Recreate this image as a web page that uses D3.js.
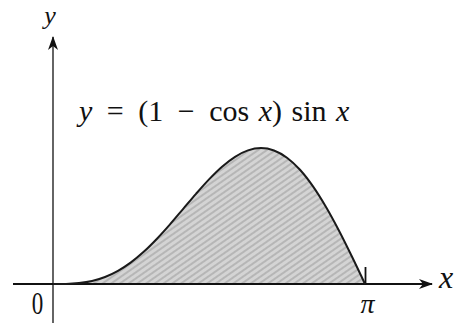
<!DOCTYPE html>
<html><head><meta charset="utf-8">
<script src="https://cdn.jsdelivr.net/npm/d3@7"></script>
<style>html,body{margin:0;padding:0;background:#fff;overflow:hidden}svg{display:block}
.serif{font-family:"Liberation Serif","Times New Roman","DejaVu Serif",serif}</style>
</head><body>
<svg id="chart" width="457" height="323"></svg>
<script>
// data: samples of y = (1 - cos x) sin x, 0..π
const xValues = [0, 0.131, 0.262, 0.393, 0.524, 0.654, 0.785, 0.916, 1.047, 1.178, 1.309, 1.440, 1.571,
                 1.702, 1.833, 1.963, 2.094, 2.225, 2.356, 2.487, 2.618, 2.749, 2.880, 3.011, 3.1416];
const yValues = [0, 0.001, 0.009, 0.029, 0.067, 0.126, 0.207, 0.310, 0.433, 0.570, 0.716, 0.862, 1.000,
                 1.121, 1.216, 1.277, 1.299, 1.276, 1.207, 1.092, 0.933, 0.736, 0.509, 0.260, 0];
const xTickValues = [0, 3.1416];
const xTickLabels = ["0", "π"];
const formulaParts = ["y", " = (1 − ", "cos ", "x", ") ", "sin ", "x"];
const formulaItalic = [true, false, false, true, false, false, true];
const formulaSpacing = [0, 7, 2, 0, 2, 2, 0];

const svg = d3.select("#chart");

const x = d3.scaleLinear().domain([0, 3.1416]).range([53, 365]);
const y = d3.scaleLinear().domain([0, 1.3]).range([284, 148]);
const pts = xValues.map((v, i) => [v, yValues[i]]);

const defs = svg.append("defs");
const pat = defs.append("pattern").attr("id", "hatch").attr("patternUnits", "userSpaceOnUse")
  .attr("width", 5).attr("height", 5).attr("patternTransform", "rotate(-35)");
pat.append("rect").attr("width", 5).attr("height", 5).attr("fill", "#d4d4d4");
pat.append("line").attr("x1", 0).attr("y1", 1).attr("x2", 5).attr("y2", 1)
  .attr("stroke", "#aaaaaa").attr("stroke-width", 1.4);

defs.append("marker").attr("id", "arrow").attr("viewBox", "0 0 14 10")
  .attr("refX", 13).attr("refY", 5).attr("markerWidth", 14).attr("markerHeight", 10)
  .attr("markerUnits", "userSpaceOnUse").attr("orient", "auto")
  .append("path").attr("d", "M0,0 L14,5 L0,10 L4,5 Z").attr("fill", "#111");

// shaded area
const area = d3.area().x(d => x(d[0])).y0(y(0)).y1(d => y(d[1])).curve(d3.curveMonotoneX);
svg.append("path").datum(pts).attr("d", area).attr("fill", "url(#hatch)");

// x axis: π tick and labels
const xAxis = d3.axisBottom(x).tickValues(xTickValues)
  .tickFormat((d, i) => xTickLabels[i]).tickSize(-17).tickSizeOuter(0).tickPadding(9);
const gx = svg.append("g").attr("transform", `translate(0,${y(0)})`).call(xAxis)
  .attr("font-family", null).attr("font-size", null);
gx.select(".domain").remove();
gx.selectAll(".tick line").attr("stroke", "#111").attr("stroke-width", 1.8)
  .filter(d => d === 0).remove();
gx.selectAll(".tick text").attr("class", "serif").attr("fill", "#111");
gx.selectAll(".tick text").filter(d => d === 0)
  .attr("font-size", 32).attr("transform", "translate(-16,0) scale(0.72,1)").attr("y", 7);
gx.selectAll(".tick text").filter(d => d !== 0)
  .attr("font-size", 28).attr("font-style", "italic").attr("dx", 2).attr("y", 9);

svg.append("line").attr("x1", 13).attr("x2", 432).attr("y1", y(0)).attr("y2", y(0))
  .attr("stroke", "#111").attr("stroke-width", 2).attr("marker-end", "url(#arrow)");

// y axis line
svg.append("line").attr("x1", x(0)).attr("x2", x(0)).attr("y1", 323).attr("y2", 37)
  .attr("stroke", "#111").attr("stroke-width", 1.3).attr("marker-end", "url(#arrow)");

// curve
const line = d3.line().x(d => x(d[0])).y(d => y(d[1])).curve(d3.curveMonotoneX);
svg.append("path").datum(pts).attr("d", line).attr("fill", "none")
  .attr("stroke", "#1a1a1a").attr("stroke-width", 2);

// axis labels
svg.append("text").attr("class", "serif").attr("x", 446).attr("y", 288).attr("text-anchor", "middle")
  .attr("font-style", "italic").attr("font-size", 32).attr("fill", "#111").text("x");
svg.append("text").attr("class", "serif").attr("x", 50).attr("y", 24).attr("text-anchor", "middle")
  .attr("font-style", "italic").attr("font-size", 26).attr("fill", "#111").text("y");

// formula
const ft = svg.append("text").attr("class", "serif").attr("x", 79).attr("y", 121)
  .attr("font-size", 30).attr("fill", "#111").attr("xml:space", "preserve");
formulaParts.forEach((t, i) => ft.append("tspan")
  .attr("font-style", formulaItalic[i] ? "italic" : "normal")
  .style("word-spacing", formulaSpacing[i] + "px").text(t));
</script>
</body></html>
